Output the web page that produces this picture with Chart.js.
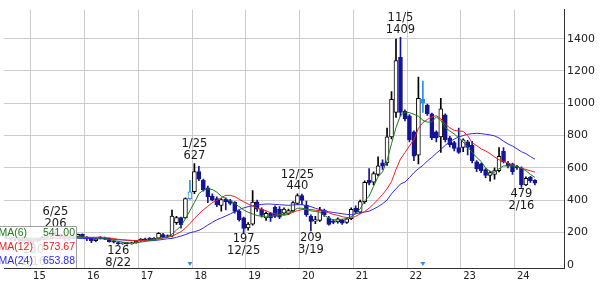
<!DOCTYPE html>
<html>
<head>
<meta charset="utf-8">
<script src="https://cdn.jsdelivr.net/npm/chart.js@4.4.1/dist/chart.umd.min.js"></script>
<style>
  html, body { margin: 0; padding: 0; background: #fff; }
</style>
</head>
<body>
<canvas id="myChart" width="601" height="281"></canvas>
<script>
// monthly slots Jul 2014 .. Nov 2024 (candles run to May 2024)
const months = [];
for (let yr = 2014, m = 7; months.length < 125; ) {
  months.push(yr + '/' + String(m).padStart(2, '0'));
  if (++m > 12) { m = 1; yr++; }
}

const openPx = [170,165,158,165,150,158,145,148,160,170,
  178,188,185,172,160,165,175,189,172,165,
  150,171,165,163,143,137,130,135,129,136,
  147,158,165,155,165,187,180,177,260,292,
  290,410,452,577,523,476,425,410,368,405,
  398,386,332,290,228,252,390,344,290,318,
  355,345,320,318,335,380,428,368,300,270,
  275,338,290,272,266,275,262,285,350,326,
  390,523,511,560,631,630,792,943,1284,950,
  923,823,679,1025,989,935,823,792,929,786,
  756,726,726,762,740,637,625,589,553,559,
  583,702,630,625,610,600,494,541,523];
const highPx = [180,172,170,168,162,165,152,165,175,185,
  195,206,190,180,172,180,190,192,175,168,
  165,175,172,166,150,142,138,138,140,148,
  162,165,168,168,200,195,185,338,300,296,
  415,523,627,609,530,487,440,420,410,415,
  405,392,338,295,262,459,400,352,328,325,
  365,360,352,345,392,440,438,395,310,300,
  355,345,300,280,290,282,290,352,365,400,
  520,595,575,668,650,846,1073,1397,1409,960,
  930,830,1162,1138,995,940,830,1031,935,795,
  765,846,780,770,765,645,630,595,580,600,
  726,726,640,630,615,607,545,548,528];
const lowPx = [160,152,150,145,143,140,130,145,155,165,
  172,180,165,150,152,160,170,168,150,137,
  145,160,155,140,135,126,128,127,127,133,
  144,150,152,150,160,168,170,172,250,227,
  285,405,440,520,455,385,395,360,332,340,
  370,320,270,197,215,245,330,295,275,268,
  292,285,312,310,325,372,372,300,209,255,
  268,300,245,255,258,250,256,280,318,318,
  380,495,495,550,590,615,780,913,920,890,
  760,645,625,943,925,775,760,696,760,730,
  705,690,700,680,630,577,570,540,518,530,
  575,630,600,560,590,479,490,510,495];
const closePx = [165,158,165,150,158,145,148,160,170,178,
  188,185,172,160,165,175,188,171,160,147,
  160,165,160,143,140,129,133,129,136,145,
  159,155,155,163,195,171,175,302,292,249,
  410,452,577,530,465,421,400,370,404,390,
  380,330,280,225,252,388,345,305,318,290,
  300,295,345,335,385,428,398,310,268,280,
  338,310,250,262,284,258,285,344,326,392,
  511,505,565,613,610,792,1025,1265,943,905,
  775,673,1031,1001,935,786,786,965,775,744,
  720,696,774,726,645,594,583,553,571,583,
  672,637,612,577,600,494,536,520,505];

// moving averages as drawn
const ma6 = [163,162,161,160,159,157,155,154,155,160,
  165,171,175,176,175,174,174,172,170,168,
  166,165,160,157,150,145,140,136,134,136,
  140,145,150,155,163,168,172,190,215,240,
  285,335,385,440,462,470,466,450,425,410,
  395,380,360,340,325,315,305,300,296,300,
  306,310,312,316,335,350,350,345,334,330,
  325,306,290,278,278,282,285,298,316,346,
  395,425,486,545,575,645,750,850,925,945,
  942,932,920,895,883,885,915,895,850,828,
  810,785,760,730,695,665,640,600,578,572,
  595,612,612,610,608,598,582,560,541];
const ma12 = [168,167,166,165,164,162,160,158,158,158,
  160,162,164,166,167,168,169,170,170,170,
  170,171,169,166,162,158,155,152,150,149,
  150,151,152,155,160,165,170,177,190,205,
  227,255,286,315,340,362,385,398,415,430,
  430,422,406,390,376,362,352,342,335,322,
  316,310,306,312,326,335,342,342,342,338,
  334,330,322,312,306,298,292,290,300,315,
  330,350,376,405,435,470,515,590,655,695,
  735,775,845,880,900,915,923,905,870,848,
  832,828,826,800,755,738,718,705,688,668,
  650,640,628,618,608,598,590,582,574];
const ma24 = [170,169,168,167,166,165,164,163,162,162,
  162,162,163,163,164,164,164,163,162,162,
  161,161,160,159,157,155,154,152,151,150,
  150,149,148,150,153,157,161,163,170,178,
  187,198,205,213,228,246,263,278,290,302,
  315,328,342,352,360,366,370,374,376,376,
  374,372,370,368,370,372,372,366,360,350,
  342,336,328,324,320,316,312,310,316,322,
  326,332,345,360,378,400,440,470,500,512,
  540,570,595,615,643,665,690,714,740,762,
  778,792,800,808,812,814,812,808,804,798,
  785,765,748,735,718,700,688,670,654];

const maNames = ['MA(6)', 'MA(12)', 'MA(24)'];
const maLast = [541.00, 573.67, 653.88];
const maColors = ['#1d7a1d', '#f02020', '#2b2bf0'];

const yTicks = [0, 200, 400, 600, 800, 1000, 1200, 1400];
const splitMonths = ['2017/12', '2022/04'];

const extremes = [
  { month: '2015/06', date: '6/25', value: 206, kind: 'high' },
  { month: '2018/01', date: '1/25', value: 627, kind: 'high' },
  { month: '2019/12', date: '12/25', value: 440, kind: 'high' },
  { month: '2021/11', date: '11/5', value: 1409, kind: 'high' },
  { month: '2015/01', date: '1/16', value: 130, kind: 'low' },
  { month: '2016/08', date: '8/22', value: 126, kind: 'low' },
  { month: '2018/12', date: '12/25', value: 197, kind: 'low' },
  { month: '2020/03', date: '3/19', value: 209, kind: 'low' },
  { month: '2024/02', date: '2/16', value: 479, kind: 'low' },
];

const navy = '#141496';
const lightBlue = '#1e90ff';
const gridColor = '#cccccc';

function candleColor(i, upColor) {
  if (splitMonths.includes(months[i])) return lightBlue;
  return closePx[i] >= openPx[i] ? upColor : navy;
}

const bodyFill = openPx.map((o, i) => {
  if (closePx[i] >= o) return '#ffffff';
  return candleColor(i, '#ffffff');
});
const bodyLine = openPx.map((o, i) => candleColor(i, '#000000'));
const wickColor = openPx.map((o, i) => candleColor(i, '#000000'));

const overlay = {
  id: 'overlay',
  afterDatasetsDraw(chart) {
    const { ctx, scales: { x, y } } = chart;
    ctx.save();
    ctx.font = '11.5px "DejaVu Sans"';
    ctx.fillStyle = '#1a1a1a';
    ctx.textAlign = 'center';
    ctx.textBaseline = 'middle';
    extremes.forEach(e => {
      const px = x.getPixelForValue(months.indexOf(e.month));
      const py = y.getPixelForValue(e.value);
      if (e.kind === 'high') {
        ctx.fillText(e.date, px, py - 19);
        ctx.fillText(String(e.value), px, py - 7.5);
      } else {
        ctx.fillText(String(e.value), px, py + 6.5);
        ctx.fillText(e.date, px, py + 18.5);
      }
    });

    // MA legend box, lower left
    const top = 226.5, right = 76.5, bottom = chart.chartArea.bottom;
    ctx.fillStyle = 'rgba(255,255,255,0.85)';
    ctx.fillRect(0, top, right, bottom - top);
    ctx.strokeStyle = '#a0a0a0';
    ctx.lineWidth = 1;
    ctx.beginPath();
    ctx.moveTo(0, top);
    ctx.lineTo(right, top);
    ctx.lineTo(right, bottom);
    ctx.stroke();
    ctx.font = '10.5px "Liberation Sans"';
    maNames.forEach((name, k) => {
      const ty = 233 + k * 14;
      ctx.fillStyle = maColors[k];
      ctx.textAlign = 'left';
      ctx.fillText(name, -1.5, ty);
      ctx.textAlign = 'right';
      ctx.fillText(maLast[k].toFixed(2), 75, ty);
    });
    ctx.restore();
  }
};

Chart.defaults.font.family = "'DejaVu Sans', sans-serif";

const ctx = document.getElementById('myChart').getContext('2d');
const myChart = new Chart(ctx, {
  type: 'bar',
  data: {
    labels: months,
    datasets: [
      {
        type: 'line', label: 'MA(6)', data: ma6, borderColor: maColors[0],
        borderWidth: 1, pointRadius: 0, fill: false, order: 0
      },
      {
        type: 'line', label: 'MA(12)', data: ma12, borderColor: maColors[1],
        borderWidth: 1, pointRadius: 0, fill: false, order: 0
      },
      {
        type: 'line', label: 'MA(24)', data: ma24, borderColor: maColors[2],
        borderWidth: 1, pointRadius: 0, fill: false, order: 0
      },
      {
        type: 'line', label: 'marks',
        data: months.map(m => splitMonths.includes(m) ? 9 : null),
        showLine: false, pointStyle: 'triangle', rotation: 180, pointRadius: 2.8,
        pointBackgroundColor: lightBlue, pointBorderColor: lightBlue, pointBorderWidth: 0,
        order: 0
      },
      {
        label: 'body',
        data: openPx.map((o, i) => [o, closePx[i]]),
        backgroundColor: bodyFill,
        borderColor: bodyLine,
        borderWidth: 1,
        borderSkipped: false,
        barThickness: 4,
        minBarLength: 1,
        grouped: false,
        order: 1
      },
      {
        label: 'wick',
        data: lowPx.map((l, i) => [l, highPx[i]]),
        backgroundColor: wickColor,
        borderWidth: 0,
        barThickness: 1,
        grouped: false,
        order: 2
      }
    ]
  },
  options: {
    responsive: false,
    animation: false,
    events: [],
    layout: { padding: 0 },
    plugins: {
      legend: { display: false },
      tooltip: { enabled: false }
    },
    scales: {
      x: {
        offset: true,
        grid: {
          offset: true,
          drawTicks: false,
          color: c => (months[c.index] && months[c.index].endsWith('/01')) ? gridColor : 'rgba(0,0,0,0)'
        },
        border: { display: true, color: '#333333' },
        ticks: {
          autoSkip: false,
          maxRotation: 0,
          minRotation: 0,
          align: 'start',
          padding: 2,
          color: '#222',
          font: { size: 10 },
          callback: (v, i) => months[i].endsWith('/01') ? months[i].slice(2, 4) : ''
        },
        afterFit: s => { s.height = 13; }
      },
      y: {
        position: 'right',
        min: -20,
        max: 1580,
        afterBuildTicks: s => { s.ticks = yTicks.map(v => ({ value: v })); },
        grid: {
          drawTicks: false,
          color: c => (c.tick && c.tick.value === 0) ? 'rgba(0,0,0,0)' : gridColor
        },
        border: { display: true, color: '#333333' },
        ticks: {
          padding: 3,
          color: '#222',
          font: { size: 11 },
          callback: v => String(v)
        },
        afterFit: s => { s.width = 37; }
      }
    }
  },
  plugins: [overlay]
});
</script>
</body>
</html>
